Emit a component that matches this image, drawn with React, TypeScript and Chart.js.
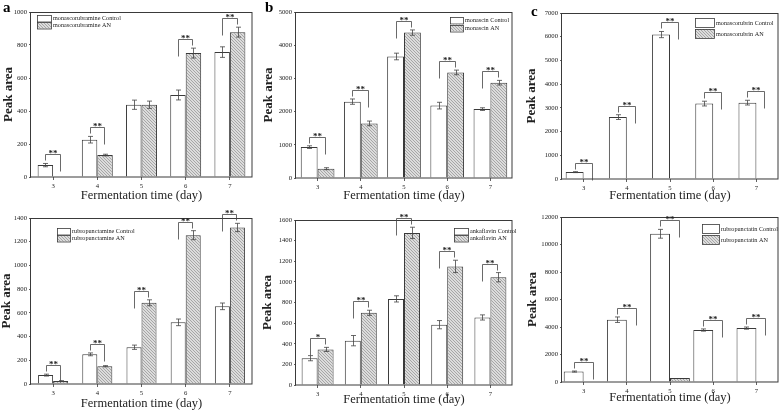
import React, { useEffect, useRef } from 'react';
import { Chart, registerables } from 'chart.js';

Chart.register(...registerables);

// ---------------- DATA ----------------
const days = ['3', '4', '5', '6', '7'];

const monascorubramineControl = [72, 226, 438, 497, 757];
const monascorubramineControlErr = [10, 20, 28, 30, 32];
const monascorubramineAN = [0, 133, 438, 751, 878];
const monascorubramineANErr = [0, 5, 22, 30, 30];
const monascorubramineSig = ['**', '**', '', '**', '**'];

const monascinControl = [930, 2300, 3660, 2180, 2075];
const monascinControlErr = [40, 80, 100, 100, 40];
const monascinAN = [280, 1645, 4380, 3180, 2870];
const monascinANErr = [30, 70, 80, 70, 70];
const monascinSig = ['**', '**', '**', '**', '**'];

const monascorubrinControl = [290, 2610, 6090, 3180, 3220];
const monascorubrinControlErr = [20, 100, 130, 100, 100];
const monascorubrinAN = [0, 0, 0, 25, 30];
const monascorubrinANErr = [0, 0, 0, 0, 0];
const monascorubrinSig = ['**', '**', '**', '**', '**'];

const rubropunctamineControl = [75, 250, 310, 520, 655];
const rubropunctamineControlErr = [8, 12, 18, 28, 28];
const rubropunctamineAN = [25, 150, 685, 1255, 1320];
const rubropunctamineANErr = [3, 5, 25, 38, 35];
const rubropunctamineSig = ['**', '**', '**', '**', '**'];

const ankaflavinControl = [260, 430, 835, 585, 655];
const ankaflavinControlErr = [25, 50, 30, 40, 25];
const ankaflavinAN = [345, 700, 1475, 1150, 1045];
const ankaflavinANErr = [20, 25, 55, 60, 45];
const ankaflavinSig = ['*', '**', '**', '**', '**'];

const rubropunctatinControl = [760, 4530, 10780, 3780, 3920];
const rubropunctatinControlErr = [40, 200, 320, 80, 80];
const rubropunctatinAN = [0, 40, 300, 30, 60];
const rubropunctatinANErr = [0, 0, 0, 0, 0];
const rubropunctatinSig = ['**', '**', '**', '**', '**'];

// ---------------- LAYOUT / STYLE ----------------
const SERIF = "'Liberation Serif', 'Times New Roman', serif";
const INK = '#222';
const LINE = '#3a3a3a';

type Box = { x: number; y: number; w: number; h: number };
type Area = { l: number; t: number; r: number; b: number };
type LegendCfg = { x: number; y: number; w: number; h: number; gap: number; font: number };
type PanelCfg = {
  name: string;
  control: number[];
  controlErr: number[];
  an: number[];
  anErr: number[];
  sig: string[];
  max: number;
  step: number;
  box: Box;
  area: Area;
  legend: LegendCfg;
  letter?: { text: string; x: number; y: number };
  yTitleCenter: number;
  xTitleCenter: number;
  catPct: number;
};

const panels: PanelCfg[] = [
  {
    name: 'monascorubramine',
    control: monascorubramineControl, controlErr: monascorubramineControlErr,
    an: monascorubramineAN, anErr: monascorubramineANErr, sig: monascorubramineSig,
    max: 1000, step: 200,
    box: { x: 0, y: 0, w: 258, h: 205 },
    area: { l: 31, t: 12, r: 252, b: 177 },
    legend: { x: 37, y: 15, w: 14, h: 6.5, gap: 7, font: 6.2 },
    letter: { text: 'a', x: 3, y: 12 },
    yTitleCenter: 9, xTitleCenter: 196, catPct: 0.7,
  },
  {
    name: 'monascin',
    control: monascinControl, controlErr: monascinControlErr,
    an: monascinAN, anErr: monascinANErr, sig: monascinSig,
    max: 5000, step: 1000,
    box: { x: 258, y: 0, w: 260, h: 205 },
    area: { l: 296, t: 12, r: 512, b: 178 },
    legend: { x: 450, y: 17, w: 13, h: 6.5, gap: 7.5, font: 6.2 },
    letter: { text: 'b', x: 265, y: 12 },
    yTitleCenter: 269, xTitleCenter: 196, catPct: 0.78,
  },
  {
    name: 'monascorubrin',
    control: monascorubrinControl, controlErr: monascorubrinControlErr,
    an: monascorubrinAN, anErr: monascorubrinANErr, sig: monascorubrinSig,
    max: 7000, step: 1000,
    box: { x: 518, y: 0, w: 266, h: 205 },
    area: { l: 562, t: 13, r: 778, b: 179 },
    legend: { x: 695, y: 18, w: 19, h: 9, gap: 11, font: 6.2 },
    letter: { text: 'c', x: 531, y: 16 },
    yTitleCenter: 532, xTitleCenter: 196, catPct: 0.83,
  },
  {
    name: 'rubropunctamine',
    control: rubropunctamineControl, controlErr: rubropunctamineControlErr,
    an: rubropunctamineAN, anErr: rubropunctamineANErr, sig: rubropunctamineSig,
    max: 1400, step: 200,
    box: { x: 0, y: 205, w: 258, h: 207 },
    area: { l: 31, t: 218, r: 252, b: 384 },
    legend: { x: 57, y: 228, w: 13, h: 6.5, gap: 7, font: 6.2 },
    yTitleCenter: 7, xTitleCenter: 404, catPct: 0.68,
  },
  {
    name: 'ankaflavin',
    control: ankaflavinControl, controlErr: ankaflavinControlErr,
    an: ankaflavinAN, anErr: ankaflavinANErr, sig: ankaflavinSig,
    max: 1600, step: 200,
    box: { x: 258, y: 205, w: 260, h: 207 },
    area: { l: 296, t: 220, r: 512, b: 385 },
    legend: { x: 454, y: 228, w: 14, h: 6.5, gap: 7, font: 6.2 },
    yTitleCenter: 268, xTitleCenter: 400, catPct: 0.74,
  },
  {
    name: 'rubropunctatin',
    control: rubropunctatinControl, controlErr: rubropunctatinControlErr,
    an: rubropunctatinAN, anErr: rubropunctatinANErr, sig: rubropunctatinSig,
    max: 12000, step: 2000,
    box: { x: 518, y: 205, w: 266, h: 207 },
    area: { l: 562, t: 217, r: 778, b: 382 },
    legend: { x: 702, y: 224, w: 17, h: 9, gap: 11, font: 6.2 },
    yTitleCenter: 533, xTitleCenter: 398, catPct: 0.92,
  },
];

function makeHatch(): CanvasPattern | string {
  const n = 3;
  const c = document.createElement('canvas');
  c.width = n;
  c.height = n;
  const g = c.getContext('2d');
  if (!g) return '#c8c8c8';
  g.fillStyle = '#dcdcdc';
  g.fillRect(0, 0, n, n);
  g.fillStyle = '#a6a6a6';
  for (let i = 0; i < n; i++) g.fillRect(i, i, 1, 1);
  const p = g.createPattern(c, 'repeat');
  return p || '#c8c8c8';
}

function buildConfig(cfg: PanelCfg, hatch: CanvasPattern | string): any {
  const { box, area } = cfg;
  const ox = box.x;
  const oy = box.y;

  const framePlugin = {
    id: 'frame',
    afterDatasetsDraw(chart: any) {
      const { ctx, chartArea } = chart;
      ctx.save();
      ctx.strokeStyle = LINE;
      ctx.lineWidth = 1;
      ctx.strokeRect(
        Math.round(chartArea.left) - 0.5,
        Math.round(chartArea.top) + 0.5,
        Math.round(chartArea.right - chartArea.left) + 0.5,
        Math.round(chartArea.bottom - chartArea.top) - 0.5
      );
      ctx.restore();
    },
  };

  const errorPlugin = {
    id: 'errbars',
    afterDatasetsDraw(chart: any) {
      const { ctx } = chart;
      const y = chart.scales.y;
      const errs = [cfg.controlErr, cfg.anErr];
      const vals = [cfg.control, cfg.an];
      ctx.save();
      ctx.strokeStyle = '#444';
      ctx.lineWidth = 0.8;
      for (let d = 0; d < 2; d++) {
        const meta = chart.getDatasetMeta(d);
        meta.data.forEach((bar: any, i: number) => {
          const e = errs[d][i];
          if (!e) return;
          const v = vals[d][i];
          const yt = y.getPixelForValue(v + e);
          const yb = y.getPixelForValue(Math.max(0, v - e));
          const x = Math.round(bar.x) + 0.5;
          ctx.beginPath();
          ctx.moveTo(x, yt);
          ctx.lineTo(x, yb);
          ctx.moveTo(x - 2.5, yt);
          ctx.lineTo(x + 2.5, yt);
          ctx.moveTo(x - 2.5, yb);
          ctx.lineTo(x + 2.5, yb);
          ctx.stroke();
        });
      }
      ctx.restore();
    },
  };

  const bracketPlugin = {
    id: 'brackets',
    afterDatasetsDraw(chart: any) {
      const { ctx } = chart;
      const y = chart.scales.y;
      const m0 = chart.getDatasetMeta(0);
      const m1 = chart.getDatasetMeta(1);
      ctx.save();
      ctx.strokeStyle = '#444';
      ctx.lineWidth = 0.8;
      ctx.fillStyle = INK;
      ctx.font = `bold 9px ${SERIF}`;
      ctx.textAlign = 'center';
      ctx.textBaseline = 'alphabetic';
      cfg.sig.forEach((s, i) => {
        if (!s) return;
        const cTop = y.getPixelForValue(cfg.control[i] + cfg.controlErr[i]);
        const aTop = y.getPixelForValue(cfg.an[i] + cfg.anErr[i]);
        const top = Math.round(Math.min(cTop, aTop) - 9) + 0.5;
        const controlHigher = cTop <= aTop;
        const lLen = controlHigher ? 6 : 17;
        const rLen = controlHigher ? 17 : 6;
        const xl = Math.round(m0.data[i].x) + 0.5;
        const xr = Math.round(m1.data[i].x) - 0.5;
        ctx.beginPath();
        ctx.moveTo(xl, top + lLen);
        ctx.lineTo(xl, top);
        ctx.lineTo(xr, top);
        ctx.lineTo(xr, top + rLen);
        ctx.stroke();
        ctx.fillText(s, (xl + xr) / 2, top + 1.5);
      });
      ctx.restore();
    },
  };

  const legendPlugin = {
    id: 'customLegend',
    afterDraw(chart: any) {
      const { ctx } = chart;
      const L = cfg.legend;
      const labels = [`${cfg.name} Control`, `${cfg.name} AN`];
      const fills = ['#ffffff', hatch];
      ctx.save();
      labels.forEach((t, k) => {
        const bx = L.x - ox;
        const yy = L.y - oy + k * L.gap;
        ctx.fillStyle = fills[k];
        ctx.fillRect(bx, yy, L.w, L.h);
        ctx.strokeStyle = LINE;
        ctx.lineWidth = 0.8;
        ctx.strokeRect(Math.round(bx) + 0.5, Math.round(yy) + 0.5, L.w, L.h);
        ctx.fillStyle = INK;
        ctx.font = `${L.font}px ${SERIF}`;
        ctx.textAlign = 'left';
        ctx.textBaseline = 'middle';
        ctx.fillText(t, bx + L.w + 2, yy + L.h / 2 + 0.5);
      });
      if (cfg.letter) {
        ctx.fillStyle = '#000';
        ctx.font = `bold 15px ${SERIF}`;
        ctx.textAlign = 'left';
        ctx.textBaseline = 'alphabetic';
        ctx.fillText(cfg.letter.text, cfg.letter.x - ox, cfg.letter.y - oy);
      }
      ctx.restore();
    },
  };

  const yTitleSize = 13;
  const xTitleSize = 12.5;

  return {
    type: 'bar',
    data: {
      labels: days,
      datasets: [
        {
          label: `${cfg.name} Control`,
          data: cfg.control,
          backgroundColor: '#ffffff',
          borderColor: LINE,
          borderWidth: 1,
          borderSkipped: 'bottom',
          categoryPercentage: cfg.catPct,
          barPercentage: 1,
        },
        {
          label: `${cfg.name} AN`,
          data: cfg.an,
          backgroundColor: hatch,
          borderColor: LINE,
          borderWidth: 1,
          borderSkipped: 'bottom',
          categoryPercentage: cfg.catPct,
          barPercentage: 1,
        },
      ],
    },
    options: {
      animation: false,
      responsive: false,
      maintainAspectRatio: false,
      devicePixelRatio: 1,
      events: [],
      layout: {
        padding: {
          left: 0,
          top: area.t - box.y,
          right: box.x + box.w - area.r,
          bottom: 0,
        },
      },
      plugins: {
        legend: { display: false },
        tooltip: { enabled: false },
        title: { display: false },
      },
      scales: {
        x: {
          grid: {
            display: true,
            drawOnChartArea: false,
            offset: false,
            tickLength: 3,
            color: LINE,
            lineWidth: 0.8,
          },
          border: { display: false },
          ticks: {
            font: { family: SERIF, size: 6.7 },
            color: INK,
            padding: 2,
          },
          title: {
            display: true,
            text: 'Fermentation time (day)',
            color: INK,
            font: { family: SERIF, size: xTitleSize, lineHeight: 1 },
            padding: { top: 0, bottom: Math.max(0, box.y + box.h - cfg.xTitleCenter - xTitleSize / 2) },
          },
          afterFit: (s: any) => {
            s.height = box.y + box.h - area.b;
          },
        },
        y: {
          min: 0,
          max: cfg.max,
          grid: {
            display: true,
            drawOnChartArea: false,
            tickLength: 2,
            color: LINE,
            lineWidth: 0.8,
          },
          border: { display: false },
          ticks: {
            stepSize: cfg.step,
            font: { family: SERIF, size: 6.7 },
            color: INK,
            padding: 2,
            callback: (v: any) => String(v),
          },
          title: {
            display: true,
            text: 'Peak area',
            color: INK,
            font: { family: SERIF, size: yTitleSize, weight: 'bold', lineHeight: 1 },
            padding: { top: Math.max(0, cfg.yTitleCenter - box.x - yTitleSize / 2), bottom: 0 },
          },
          afterFit: (s: any) => {
            s.width = area.l - box.x;
          },
        },
      },
    },
    plugins: [framePlugin, errorPlugin, bracketPlugin, legendPlugin],
  };
}

function Panel({ cfg }: { cfg: PanelCfg }) {
  const ref = useRef<HTMLCanvasElement | null>(null);
  useEffect(() => {
    if (!ref.current) return;
    const hatch = makeHatch();
    const chart = new Chart(ref.current, buildConfig(cfg, hatch));
    return () => chart.destroy();
  }, [cfg]);
  return (
    <canvas
      ref={ref}
      width={cfg.box.w}
      height={cfg.box.h}
      style={{
        position: 'absolute',
        left: cfg.box.x,
        top: cfg.box.y,
        width: cfg.box.w,
        height: cfg.box.h,
      }}
    />
  );
}

export default function App() {
  return (
    <div
      style={{
        position: 'absolute',
        left: 0,
        top: 0,
        width: 784,
        height: 412,
        background: '#ffffff',
        overflow: 'hidden',
      }}
    >
      {panels.map((p) => (
        <Panel key={p.name} cfg={p} />
      ))}
    </div>
  );
}
